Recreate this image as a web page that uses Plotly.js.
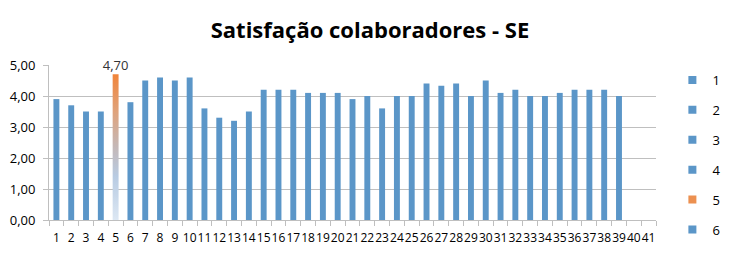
<!DOCTYPE html>
<html>
<head>
<meta charset="utf-8">
<script src="https://cdn.plot.ly/plotly-3.0.1.min.js"></script>
<style>html,body{margin:0;padding:0;background:#fff;}#chart{width:737px;height:255px;}</style>
</head>
<body>
<div id="chart"></div>
<script>
// ---- data ----
const categories = Array.from({length: 41}, (_, i) => i + 1);
const tickLabels = categories.map(String);
const values = [3.9, 3.7, 3.5, 3.5, 4.7, 3.8, 4.5, 4.6, 4.5, 4.6,
                3.6, 3.3, 3.2, 3.5, 4.2, 4.2, 4.2, 4.1, 4.1, 4.1,
                3.9, 4.0, 3.6, 4.0, 4.0, 4.4, 4.33, 4.4, 4.0, 4.5,
                4.1, 4.2, 4.0, 4.0, 4.1, 4.2, 4.2, 4.2, 4.0, null, null];
const highlightCategory = 5;
const legendNames = ['1', '2', '3', '4', '5', '6'];
const chartTitle = 'Satisfação colaboradores - SE';

// ---- style ----
const BLUE = '#5b96c8';
const ORANGE = '#ec9050';
const GRID = '#bfbfbf';
const FONT = 'Open Sans, Liberation Sans, sans-serif';
const BARW = 0.4;

const hiIdx = categories.indexOf(highlightCategory);
const hiVal = values[hiIdx];
const fmt = v => v.toFixed(2).replace('.', ',');

const mainBars = {
  type: 'bar',
  x: categories,
  y: values,
  width: BARW,
  marker: {color: categories.map(c => c === highlightCategory ? 'rgba(0,0,0,0)' : BLUE)},
  text: values.map((v, i) => i === hiIdx ? fmt(v) : ''),
  textposition: 'outside',
  constraintext: 'none',
  cliponaxis: false,
  textfont: {family: FONT, size: 13, color: '#333'},
  showlegend: false,
  hoverinfo: 'x+y'
};

const gradBar = {
  type: 'scatter',
  mode: 'lines',
  x: [highlightCategory - BARW / 2, highlightCategory + BARW / 2, highlightCategory + BARW / 2, highlightCategory - BARW / 2, highlightCategory - BARW / 2],
  y: [0, 0, hiVal, hiVal, 0],
  fill: 'toself',
  line: {width: 0, color: 'rgba(0,0,0,0)'},
  fillgradient: {
    type: 'vertical',
    colorscale: [[0, '#dce7f3'], [0.3, '#b8cbe2'], [0.5, '#c4b8b8'], [0.75, '#e0a27a'], [1, '#f0843a']]
  },
  showlegend: false,
  hoverinfo: 'skip'
};

const legendTraces = legendNames.map((n, i) => ({
  type: 'scatter',
  mode: 'markers',
  x: [null],
  y: [null],
  name: n,
  legendgroup: 'g' + i,
  marker: {symbol: 'square', size: 8, color: n === String(highlightCategory) ? ORANGE : BLUE},
  showlegend: true
}));

const boundaries = categories.map(c => c - 0.5).concat([categories[categories.length - 1] + 0.5]);

const layout = {
  width: 737,
  height: 255,
  margin: {l: 49, r: 70, t: 65, b: 35},
  paper_bgcolor: '#fff',
  plot_bgcolor: '#fff',
  separators: ',.',
  font: {family: FONT, color: '#000'},
  showlegend: true,
  title: {
    text: '<b>' + chartTitle + '</b>',
    font: {family: FONT, size: 22, color: '#000'},
    x: 0.502, xanchor: 'center', xref: 'container',
    y: 0.88, yanchor: 'middle'
  },
  xaxis: {
    range: [0.5, 41.5],
    tickmode: 'array',
    tickvals: categories,
    ticktext: tickLabels,
    tickangle: 0,
    ticks: '',
    showgrid: false,
    zeroline: false,
    showline: true,
    linecolor: GRID,
    linewidth: 1,
    tickfont: {family: FONT, size: 12, color: '#000'},
    ticklabelstandoff: 7,
    minor: {tickmode: 'array', tickvals: boundaries, ticks: 'outside', ticklen: 5, tickcolor: GRID, showgrid: false}
  },
  yaxis: {
    range: [0, 5],
    dtick: 1,
    tick0: 0,
    tickformat: '.2f',
    ticks: 'outside',
    ticklen: 5,
    tickcolor: GRID,
    showline: true,
    linecolor: GRID,
    gridcolor: GRID,
    gridwidth: 1,
    zeroline: false,
    ticklabelstandoff: 5,
    tickfont: {family: FONT, size: 13, color: '#000'}
  },
  legend: {
    x: 1.027, xanchor: 'left',
    y: 1.0, yanchor: 'top',
    font: {family: FONT, size: 13, color: '#000'},
    tracegroupgap: 10,
    itemwidth: 30,
    maxheight: 250,
    bgcolor: 'rgba(0,0,0,0)'
  }
};

Plotly.newPlot('chart', [mainBars, gradBar].concat(legendTraces), layout, {displayModeBar: false, staticPlot: true});
</script>
</body>
</html>
